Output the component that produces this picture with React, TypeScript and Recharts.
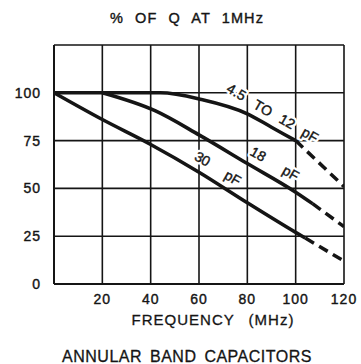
import React from "react";
import {
  LineChart,
  Line,
  XAxis,
  YAxis,
  CartesianGrid,
  ReferenceDot,
} from "recharts";

// frequency (MHz) / % of Q at 1 MHz
const freq4to12 = [0, 44, 61, 80, 90, 100];
const q4to12 = [100, 100, 96.5, 89, 82, 75];
const freq4to12Ext = [100, 120];
const q4to12Ext = [75, 51];

const freq18 = [20, 42, 60, 80, 100, 107];
const q18 = [100, 90.5, 78, 63, 48, 42];
const freq18Ext = [107, 120];
const q18Ext = [42, 30];

const freq30 = [0, 20, 40, 60, 80, 100, 104];
const q30 = [100, 86, 73, 58.5, 42.5, 27, 24];
const freq30Ext = [104, 120];
const q30Ext = [24, 12];

const xTicks = [0, 20, 40, 60, 80, 100, 120];
const yTicks = [0, 25, 50, 75, 100, 125];

// curve annotations, in chart units
const noteText = ["4.5", "TO", "12", "pF", "18", "pF", "30", "pF"];
const noteFreq = [75.5, 86.5, 96.5, 106, 84.5, 98, 61.5, 74];
const noteQ = [100.5, 92, 85, 78, 68, 58, 65.5, 55.5];

const toPoints = (xs: number[], ys: number[]) =>
  xs.map((x, i) => ({ x, y: ys[i] }));

const FONT = "'Liberation Sans', Arial, sans-serif";
const INK = "#151515";

const NoteShape = (text: string) => (props: any) => {
  const { cx, cy } = props;
  return (
    <g transform={`rotate(30 ${cx} ${cy})`}>
      <text
        x={cx}
        y={cy}
        textAnchor="middle"
        dominantBaseline="central"
        fontFamily={FONT}
        fontSize={14}
        fill="#fff"
        stroke="#fff"
        strokeWidth={5}
        strokeLinejoin="round"
      >
        {text}
      </text>
      <text
        x={cx}
        y={cy}
        textAnchor="middle"
        dominantBaseline="central"
        fontFamily={FONT}
        fontSize={14}
        fill={INK}
        stroke={INK}
        strokeWidth={0.4}
      >
        {text}
      </text>
    </g>
  );
};

export default function App() {
  const tickStyle = {
    fontFamily: FONT,
    fontSize: 14,
    fill: INK,
    stroke: INK,
    strokeWidth: 0.4,
    letterSpacing: 1,
  };

  const lineProps = {
    dataKey: "y",
    stroke: INK,
    strokeWidth: 3.5,
    dot: false,
    isAnimationActive: false,
  };

  return (
    <div
      style={{
        position: "absolute",
        left: 0,
        top: 0,
        width: 361,
        height: 364,
        background: "#fff",
      }}
    >
      <LineChart
        width={361}
        height={364}
        margin={{ top: 45, right: 17, bottom: 50, left: 0 }}
      >
        <CartesianGrid stroke={INK} strokeWidth={1.6} />
        <XAxis
          type="number"
          dataKey="x"
          domain={[0, 120]}
          ticks={xTicks}
          tickFormatter={(v: number) => (v === 0 ? "" : String(v))}
          tick={tickStyle}
          tickLine={false}
          tickSize={8}
          axisLine={{ stroke: INK, strokeWidth: 2 }}
          height={30}
          allowDataOverflow
        />
        <YAxis
          type="number"
          dataKey="y"
          domain={[0, 125]}
          ticks={yTicks}
          tickFormatter={(v: number) => (v === 125 ? "" : String(v))}
          tick={tickStyle}
          tickLine={false}
          tickSize={12}
          tickMargin={1}
          axisLine={{ stroke: INK, strokeWidth: 2 }}
          width={54}
          allowDataOverflow
        />
        {noteText.map((t, i) => (
          <ReferenceDot
            key={`note-${i}`}
            x={noteFreq[i]}
            y={noteQ[i]}
            r={0}
            shape={NoteShape(t)}
          />
        ))}
        <Line {...lineProps} data={toPoints(freq4to12, q4to12)} type="monotone" />
        <Line
          {...lineProps}
          data={toPoints(freq4to12Ext, q4to12Ext)}
          type="linear"
          strokeDasharray="10 6"
        />
        <Line {...lineProps} data={toPoints(freq18, q18)} type="monotone" />
        <Line
          {...lineProps}
          data={toPoints(freq18Ext, q18Ext)}
          type="linear"
          strokeDasharray="10 6"
        />
        <Line {...lineProps} data={toPoints(freq30, q30)} type="monotone" />
        <Line
          {...lineProps}
          data={toPoints(freq30Ext, q30Ext)}
          type="linear"
          strokeDasharray="10 6"
        />
      </LineChart>
      <svg
        width={361}
        height={364}
        style={{ position: "absolute", left: 0, top: 0, pointerEvents: "none" }}
      >
        <text
          x={187}
          y={23}
          textAnchor="middle"
          fontFamily={FONT}
          fontSize={14.5}
          fill={INK}
          stroke={INK}
          strokeWidth={0.4}
          letterSpacing={1.1}
          wordSpacing={6}
        >
          % OF Q AT 1MHz
        </text>
        <text
          x={213}
          y={325}
          textAnchor="middle"
          fontFamily={FONT}
          fontSize={15}
          fill={INK}
          stroke={INK}
          strokeWidth={0.3}
          letterSpacing={1}
          wordSpacing={9}
        >
          FREQUENCY (MHz)
        </text>
        <text
          x={187}
          y={362}
          textAnchor="middle"
          fontFamily={FONT}
          fontSize={16}
          fill={INK}
          stroke={INK}
          strokeWidth={0.3}
          letterSpacing={0.5}
          wordSpacing={3}
        >
          ANNULAR BAND CAPACITORS
        </text>
      </svg>
    </div>
  );
}
